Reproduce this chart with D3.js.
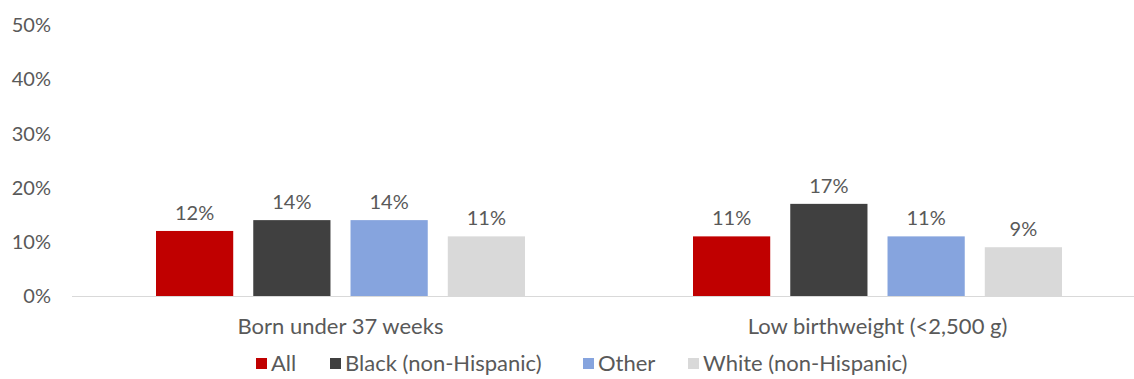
<!DOCTYPE html>
<html><head><meta charset="utf-8">
<script src="https://cdn.jsdelivr.net/npm/d3@7"></script>
<style>body{margin:0;background:#fff}svg{display:block}text{font-family:Lato,"Open Sans",sans-serif;fill:#595959}</style>
</head><body>
<svg id="c" width="1134" height="379"></svg>
<script>
const categories = ["Born under 37 weeks", "Low birthweight (<2,500 g)"];
const seriesNames = ["All", "Black (non-Hispanic)", "Other", "White (non-Hispanic)"];
const seriesColors = ["#C00000", "#404040", "#86A4DE", "#D9D9D9"];
const allVals = [12, 11];
const blackVals = [14, 17];
const otherVals = [14, 11];
const whiteVals = [11, 9];
const yTicks = [0, 10, 20, 30, 40, 50];

const series = [allVals, blackVals, otherVals, whiteVals];
const svg = d3.select("#c");
const x0 = d3.scaleBand().domain(categories).range([72, 1146]).paddingInner(0).paddingOuter(0);
const x1 = d3.scaleBand().domain(seriesNames).range([84, 453]).paddingInner(0.206).paddingOuter(0);
const y = d3.scaleLinear().domain([0, 50]).range([296, 25]);

// y tick labels
svg.append("g").selectAll("text").data(yTicks).join("text")
  .attr("x", 51).attr("y", d => y(d)).attr("dy", "0.36em")
  .attr("text-anchor", "end").style("font-size", "20px")
  .text(d => d + "%");

// bars
const g = svg.append("g");
categories.forEach((c, ci) => {
  series.forEach((vals, si) => {
    const bx = x0(c) + x1(seriesNames[si]);
    g.append("rect").attr("x", bx).attr("y", y(vals[ci]))
      .attr("width", x1.bandwidth()).attr("height", y(0) - y(vals[ci]))
      .attr("fill", seriesColors[si]);
    g.append("text").attr("x", bx + x1.bandwidth() / 2).attr("y", y(vals[ci]) - 11)
      .attr("text-anchor", "middle").style("font-size", "20px")
      .text(vals[ci] + "%");
  });
});

// baseline
svg.append("line").attr("x1", 72).attr("x2", 1146).attr("y1", y(0) + 0.5).attr("y2", y(0) + 0.5)
  .attr("stroke", "#D9D9D9").attr("stroke-width", 1);

// category labels
svg.append("g").selectAll("text").data(categories).join("text")
  .attr("x", d => x0(d) + x0.bandwidth() / 2).attr("y", 334)
  .attr("text-anchor", "middle").style("font-size", "22px").text(d => d);

// legend
const legendX = [256, 330, 583, 688];
const lg = svg.append("g");
seriesNames.forEach((n, i) => {
  lg.append("rect").attr("x", legendX[i]).attr("y", 358).attr("width", 11).attr("height", 11).attr("fill", seriesColors[i]);
  lg.append("text").attr("x", legendX[i] + 15).attr("y", 371).style("font-size", "22px").text(n);
});
</script>
</body></html>
